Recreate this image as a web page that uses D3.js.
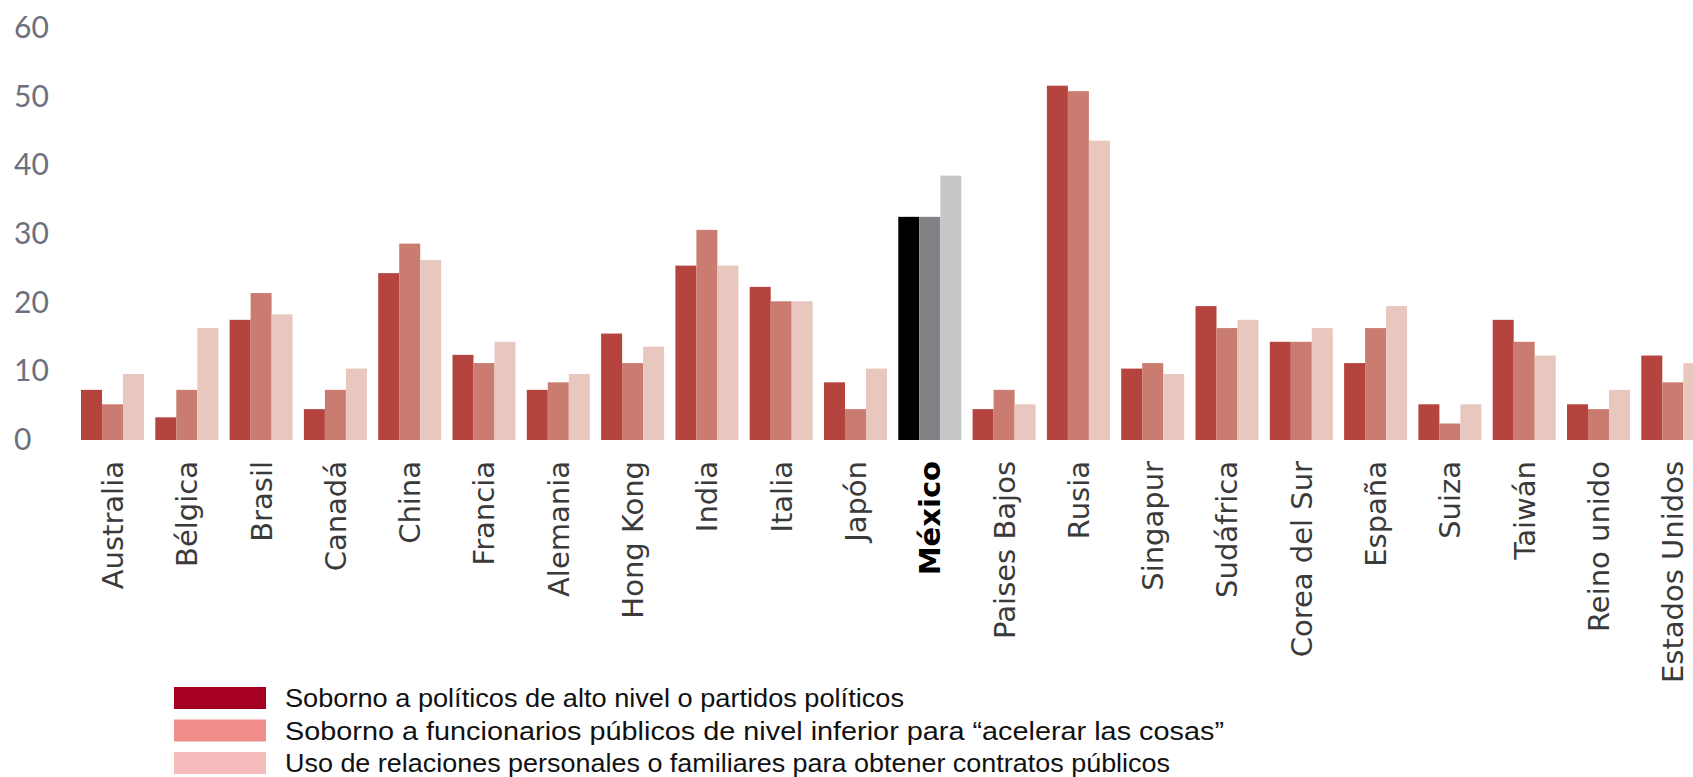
<!DOCTYPE html>
<html>
<head>
<meta charset="utf-8">
<script src="https://cdn.jsdelivr.net/npm/d3@7"></script>
<style>
  body { margin: 0; background: #fff; }
</style>
</head>
<body>
<div id="chart"></div>
<script>
const countries = ['Australia', 'Bélgica', 'Brasil', 'Canadá', 'China', 'Francia', 'Alemania', 'Hong Kong', 'India', 'Italia', 'Japón', 'México', 'Paises Bajos', 'Rusia', 'Singapur', 'Sudáfrica', 'Corea del Sur', 'España', 'Suiza', 'Taiwán', 'Reino unido', 'Estados Unidos'];

const altoNivel = [7.3, 3.3, 17.5, 4.5, 24.3, 12.4, 7.3, 15.5, 25.4, 22.3, 8.4, 32.5, 4.5, 51.6, 10.4, 19.5, 14.3, 11.2, 5.2, 17.5, 5.2, 12.3];
const nivelInferior = [5.2, 7.3, 21.4, 7.3, 28.6, 11.2, 8.4, 11.2, 30.6, 20.2, 4.5, 32.5, 7.3, 50.8, 11.2, 16.3, 14.3, 16.3, 2.4, 14.3, 4.5, 8.4];
const relaciones = [9.6, 16.3, 18.3, 10.4, 26.2, 14.3, 9.6, 13.6, 25.4, 20.2, 10.4, 38.5, 5.2, 43.6, 9.6, 17.5, 16.3, 19.5, 5.2, 12.3, 7.3, 11.2];

const yTicks = [0, 10, 20, 30, 40, 50, 60];

const legendLabels = [
  'Soborno a políticos de alto nivel o partidos políticos',
  'Soborno a funcionarios públicos de nivel inferior para “acelerar las cosas”',
  'Uso de relaciones personales o familiares para obtener contratos públicos'
];

const width = 1693;
const height = 777;
const highlight = 'México';

const barColors = ['#b5443f', '#c97c6f', '#e8c7be'];
const mexColors = ['#000000', '#808285', '#c6c7c9'];
const legendColors = ['#a50021', '#ef8d8b', '#f5bcbb'];

const series = [altoNivel, nivelInferior, relaciones];

const svg = d3.create('svg')
  .attr('width', width)
  .attr('height', height);

const x = d3.scaleBand()
  .domain(countries)
  .range([81, 81 + 21 * 74.3 + 63])
  .paddingInner(0.152)
  .paddingOuter(0);

const xs = d3.scaleBand()
  .domain([0, 1, 2])
  .range([0, x.bandwidth()]);

const y = d3.scaleLinear()
  .domain([0, 60])
  .range([440, 28]);

// y axis labels only
const yAxis = svg.append('g')
  .call(d3.axisLeft(y).tickValues(yTicks).tickSize(0))
yAxis.select('.domain').remove();
yAxis.selectAll('text')
  .attr('x', 14)
  .attr('text-anchor', 'start')
  .style('font-family', 'Lato, sans-serif')
  .style('font-size', '30px')
  .style('fill', '#6b707c');

const groups = svg.append('g')
  .selectAll('g')
  .data(countries)
  .join('g')
  .attr('transform', d => `translate(${x(d)},0)`);

groups.selectAll('rect')
  .data((c, i) => series.map((s, k) => ({ c, k, v: s[i] })))
  .join('rect')
  .attr('x', d => xs(d.k))
  .attr('width', xs.bandwidth())
  .attr('y', d => y(d.v))
  .attr('height', d => y(0) - y(d.v))
  .attr('fill', d => d.c === highlight ? mexColors[d.k] : barColors[d.k]);

// country labels, rotated
const xAxis = svg.append('g')
  .attr('transform', 'translate(0,461)')
  .call(d3.axisBottom(x).tickSize(0));
xAxis.select('.domain').remove();
xAxis.selectAll('text')
  .attr('transform', 'rotate(-90)')
  .attr('x', 0)
  .attr('y', 0)
  .attr('dy', '0.36em')
  .attr('text-anchor', 'end')
  .style('font-family', '"DejaVu Sans", sans-serif')
  .style('font-size', '29px')
  .style('fill', d => d === highlight ? '#000' : '#3a3a3a')
  .style('font-weight', d => d === highlight ? 'bold' : 'normal');

// legend
const legendWidths = [619, 939, 885];
const legend = svg.append('g');
legendLabels.forEach((t, i) => {
  const row = legend.append('g').attr('transform', `translate(174,${698 + i * 32.5})`);
  row.append('rect')
    .attr('x', 0).attr('y', -11)
    .attr('width', 92).attr('height', 22)
    .attr('fill', legendColors[i]);
  row.append('text')
    .attr('x', 111).attr('y', 0)
    .attr('dy', '0.35em')
    .attr('textLength', legendWidths[i])
    .attr('lengthAdjust', 'spacingAndGlyphs')
    .style('font-family', '"Liberation Sans Narrow", "Liberation Sans", sans-serif')
    .style('font-size', '26px')
    .style('fill', '#111')
    .text(t);
});

document.getElementById('chart').appendChild(svg.node());
</script>
</body>
</html>
